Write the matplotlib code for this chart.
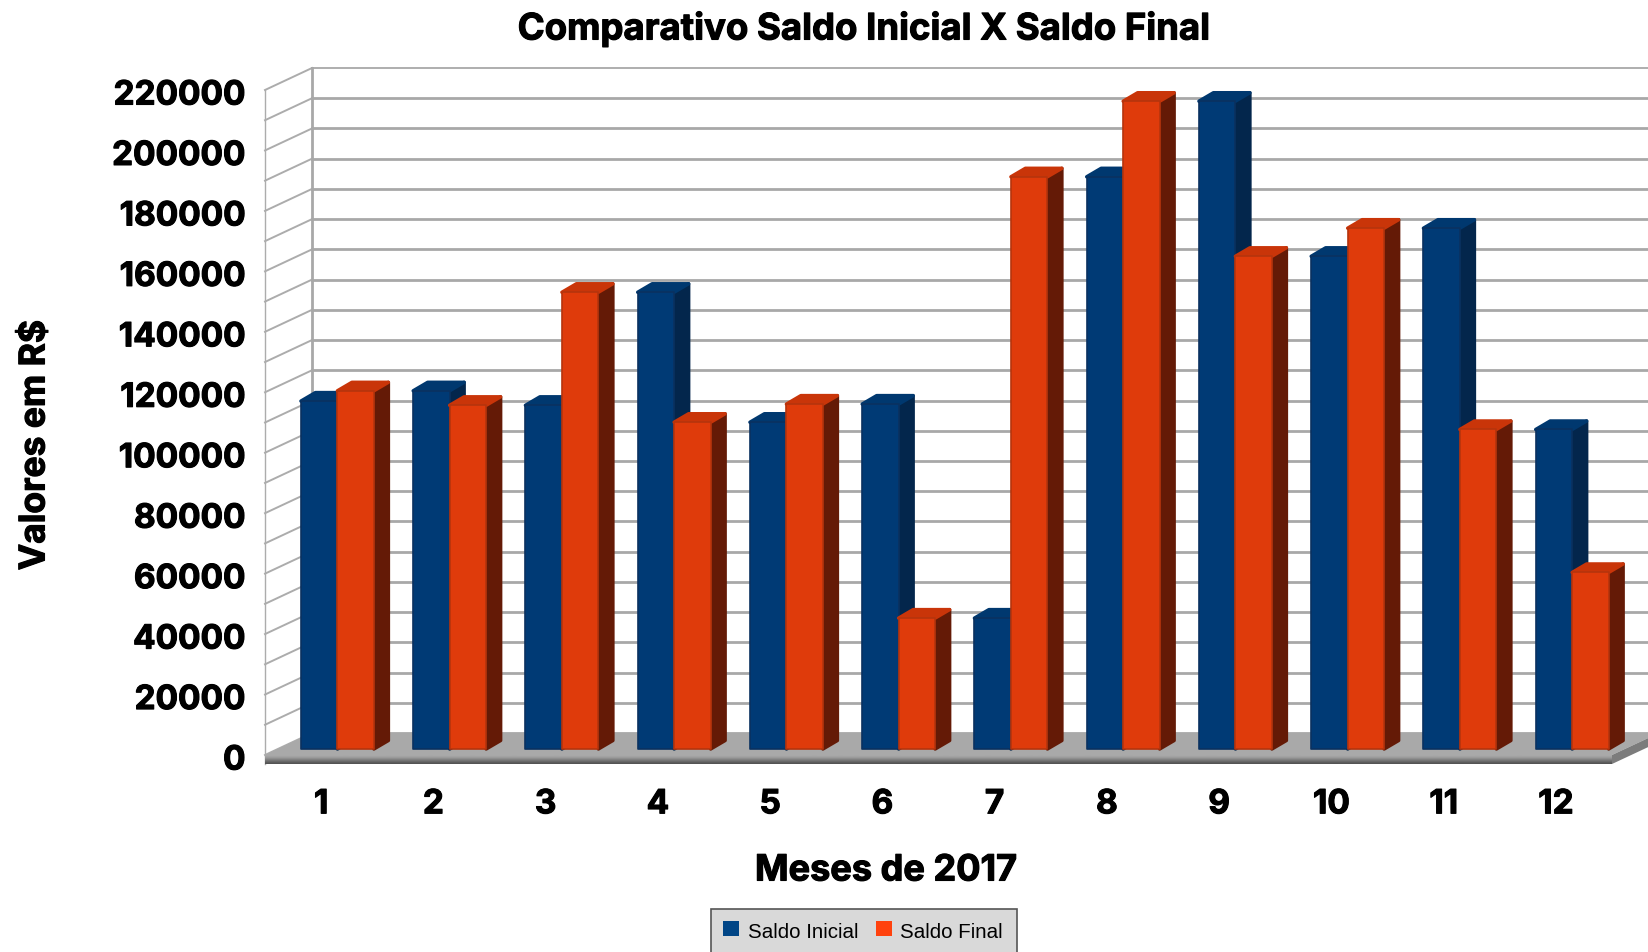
#!/usr/bin/env python3
"""Comparativo Saldo Inicial X Saldo Final, drawn as a fake 3D bar chart."""

import numpy as np
import matplotlib
matplotlib.use("Agg")
import matplotlib.pyplot as plt
import matplotlib.patheffects as pe
from matplotlib.patches import Polygon, Rectangle
from matplotlib.transforms import ScaledTranslation

meses = [1, 2, 3, 4, 5, 6, 7, 8, 9, 10, 11, 12]
saldo_inicial = [115100, 118500, 113700, 151100, 108100, 114100,
                 43300, 189300, 214300, 163000, 172300, 105700]
saldo_final = [118500, 113700, 151100, 108100, 114100, 43300,
               189300, 214300, 163000, 172300, 105700, 58400]
y_labels = list(range(0, 220001, 20000))
grid_values = list(range(0, 220001, 10000))

W, H = 1648, 952
LEFT, RIGHT, TOP, BOTTOM = 265, 1612, 90, 755
PX_X = 12 / (RIGHT - LEFT)        # data units per pixel
PX_Y = 220000 / (BOTTOM - TOP)

FONT = "Inter"
plt.rcParams["font.family"] = [FONT, "Liberation Sans", "DejaVu Sans"]
HEAVY = [pe.withStroke(linewidth=0.8, foreground="black")]

fig = plt.figure(figsize=(W / 100, H / 100), dpi=100)
ax = fig.add_axes([LEFT / W, 1 - BOTTOM / H, (RIGHT - LEFT) / W, (BOTTOM - TOP) / H])
ax.patch.set_visible(False)
for s in ax.spines.values():
    s.set_visible(False)

# wall and floor depth
wall_dx = 47 * PX_X
wall_dy = 22 * PX_Y
x0, x1 = 0.5, 12.5
strip = 9 * PX_Y

for v in grid_values:
    ax.plot([x0, x0 + wall_dx], [v, v + wall_dy], color="#acacac", lw=1.4, zorder=1, clip_on=False)
    ax.plot([x0 + wall_dx, x1 + wall_dx], [v + wall_dy, v + wall_dy], color="#a8a8a8",
            lw=1.3 if v == 220000 else 2.0, zorder=1, clip_on=False)
ax.plot([x0, x0], [-strip, 220000], color="#acacac", lw=1.0, zorder=1, clip_on=False)
ax.plot([x0 + wall_dx] * 2, [wall_dy, 220000 + wall_dy], color="#a8a8a8", lw=2.0, zorder=1, clip_on=False)

# floor
ax.add_patch(Polygon([(x0, 0), (x1, 0), (x1 + wall_dx, wall_dy), (x0 + wall_dx, wall_dy)],
                     facecolor="#a9a9a9", edgecolor="none", zorder=2, clip_on=False))
gradient = np.array([[0.66], [0.62], [0.55], [0.47], [0.40], [0.33]])
ax.imshow(gradient, cmap="gray", vmin=0, vmax=1, extent=(x0, x1, -strip, 0),
          aspect="auto", zorder=2, clip_on=False, interpolation="bilinear")
ax.add_patch(Polygon([(x1, 0), (x1 + wall_dx, wall_dy), (x1 + wall_dx, wall_dy - strip), (x1, -strip)],
                     facecolor="#7c7c7c", edgecolor="none", zorder=2, clip_on=False))

# bars
BAR_W = 0.325
CENTER = 0.145
BASE = 6 * PX_Y
SIDE_DX = 14.5 * PX_X
SIDE_DY = 8.5 * PX_Y
series = [
    ("Saldo Inicial", saldo_inicial, -BAR_W / 2, "#003a75", "#03264c", "#00386f", "#0a3160", "#004586"),
    ("Saldo Final", saldo_final, BAR_W / 2, "#df3b0b", "#641a06", "#c93509", "#b5340d", "#ff420e"),
]
z = 3
for i, m in enumerate(meses):
    for name, values, off, front, side, top, edge, legend_c in series:
        v = values[i]
        left = m + CENTER + off - BAR_W / 2
        right = left + BAR_W
        ytop = BASE + v
        ax.add_patch(Polygon([(right, BASE), (right + SIDE_DX, BASE + SIDE_DY),
                              (right + SIDE_DX, ytop + SIDE_DY), (right, ytop)],
                             facecolor=side, edgecolor=side, lw=2.5, joinstyle="round",
                             zorder=z, clip_on=False))
        ax.add_patch(Polygon([(left, ytop), (right, ytop), (right + SIDE_DX, ytop + SIDE_DY),
                              (left + SIDE_DX, ytop + SIDE_DY)],
                             facecolor=top, edgecolor=top, lw=2.5, joinstyle="round",
                             zorder=z + 0.1, clip_on=False))
        bar = ax.bar(m + CENTER + off, v, BAR_W, bottom=BASE, color=front, edgecolor=edge,
                     linewidth=1.2, zorder=z + 0.2, clip_on=False)
        bar[0].set_joinstyle("round")
        z += 1

ax.set_xlim(x0, x1)
ax.set_ylim(0, 220000)
ax.set_xticks(meses)
ax.set_xticklabels([str(m) for m in meses])
ax.set_yticks(y_labels)
ax.set_yticklabels([str(v) for v in y_labels])
ax.tick_params(axis="both", length=0, labelsize=24, labelcolor="black")
ax.tick_params(axis="y", pad=14)
ax.tick_params(axis="x", pad=24)
shift = ScaledTranslation(0, -2 / 100, fig.dpi_scale_trans)
for lab in ax.get_xticklabels() + ax.get_yticklabels():
    lab.set_fontweight("bold")
    lab.set_path_effects(HEAVY)
for lab in ax.get_yticklabels():
    lab.set_transform(lab.get_transform() + shift)

# titles
fig.text(864 / W, 1 - 29 / H, "Comparativo Saldo Inicial X Saldo Final", ha="center", va="center",
         fontsize=26.3, fontweight="bold", path_effects=HEAVY)
fig.text(886 / W, 1 - 871 / H, "Meses de 2017", ha="center", va="center",
         fontsize=26, fontweight="bold", path_effects=HEAVY)
fig.text(35 / W, 1 - 445 / H, "Valores em R$", ha="center", va="center", rotation=90,
         fontsize=25.5, fontweight="bold", path_effects=HEAVY)

# legend: grey box runs off the bottom of the picture
fig.patches.append(Rectangle((711 / W, -10 / H), 306 / W, (H - 909 + 10) / H, transform=fig.transFigure,
                             facecolor="#d9d9d9", edgecolor="#555555", lw=1.2, zorder=0))
handles = [Rectangle((0, 0), 1, 1, facecolor=s[7], edgecolor="none") for s in series]
leg = fig.legend(handles, [s[0] for s in series], loc="center", bbox_to_anchor=(863 / W, 1 - 930 / H),
                 ncol=2, frameon=False, prop={"family": "Liberation Sans", "size": 14.8},
                 handlelength=0.78, handleheight=0.78, handletextpad=0.42, columnspacing=0.85)
for t in leg.get_texts():
    t.set_position((0, -3))

fig.savefig("out.png", dpi=100)
